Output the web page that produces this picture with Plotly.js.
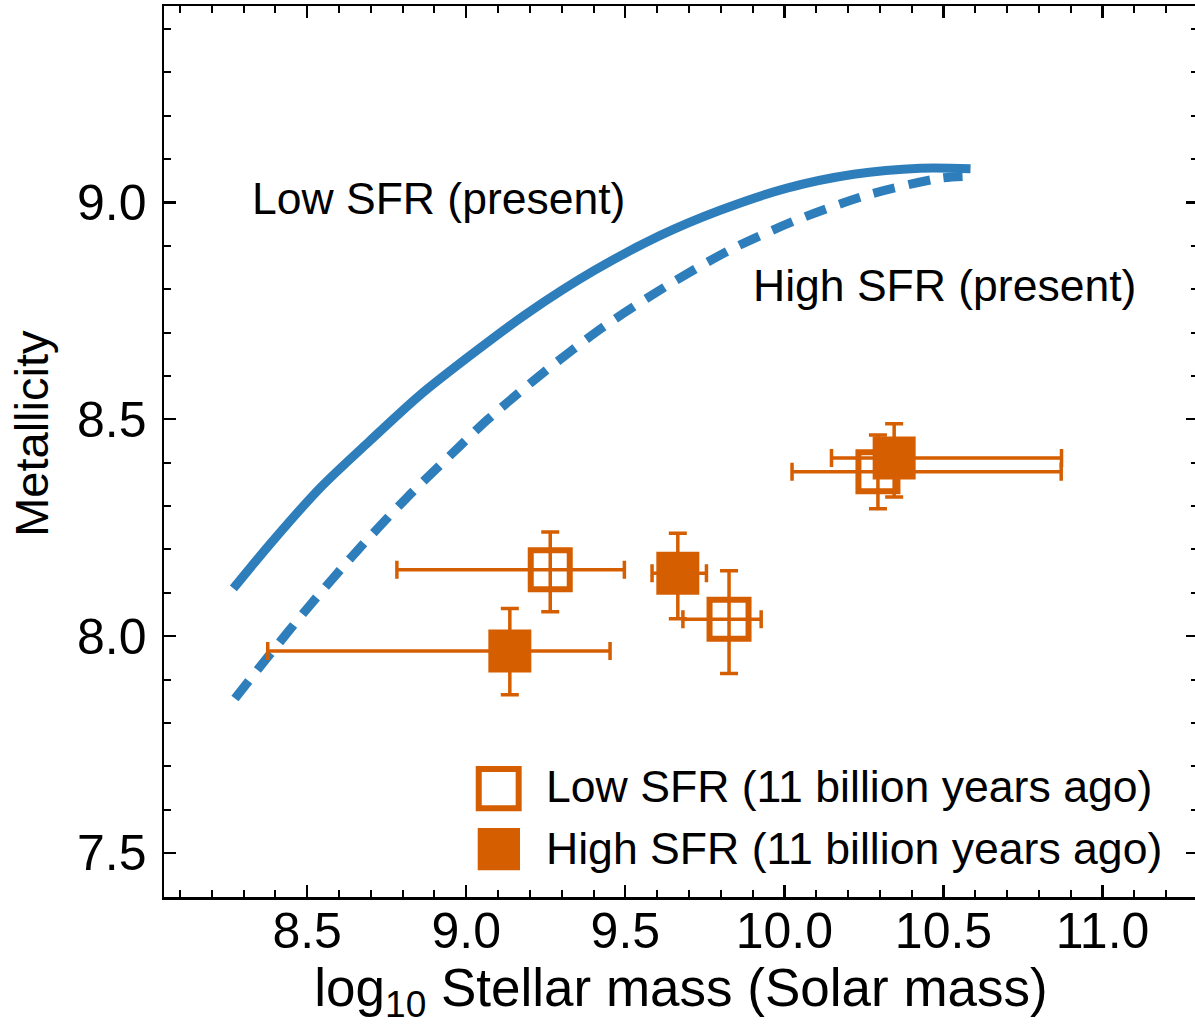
<!DOCTYPE html>
<html>
<head>
<meta charset="utf-8">
<script src="https://cdn.plot.ly/plotly-3.0.1.min.js"></script>
<style>
html, body { margin: 0; padding: 0; overflow: hidden; background: #fff; }
#chart { width: 1200px; height: 1025px; }
</style>
</head>
<body>
<div id="chart"></div>
<script>
// Present-day relations (log stellar mass vs metallicity)
const lowPresentMass = [8.268, 8.383, 8.541, 8.698, 8.855, 9.023, 9.191, 9.400, 9.610, 9.798, 10.008, 10.218, 10.427, 10.585];
const lowPresentZ    = [8.110, 8.212, 8.342, 8.451, 8.556, 8.653, 8.744, 8.842, 8.924, 8.982, 9.033, 9.065, 9.079, 9.078];
const highPresentMass = [8.273, 8.373, 8.504, 8.656, 8.813, 8.981, 9.065, 9.243, 9.431, 9.631, 9.830, 10.040, 10.260, 10.490, 10.560];
const highPresentZ    = [7.856, 7.949, 8.067, 8.196, 8.319, 8.439, 8.498, 8.608, 8.713, 8.808, 8.891, 8.960, 9.017, 9.056, 9.060];

// 11 billion years ago samples
const lowPastMass = [9.264, 9.826, 10.294];
const lowPastZ    = [8.153, 8.039, 8.379];
const lowPastMassErrMinus = [0.482, 0.145, 0.270];
const lowPastMassErrPlus  = [0.233, 0.101, 0.576];
const lowPastZErrMinus = [0.097, 0.125, 0.085];
const lowPastZErrPlus  = [0.087, 0.112, 0.085];

const highPastMass = [9.137, 9.665, 10.345];
const highPastZ    = [7.966, 8.145, 8.411];
const highPastMassErrMinus = [0.761, 0.081, 0.197];
const highPastMassErrPlus  = [0.315, 0.090, 0.526];
const highPastZErrMinus = [0.101, 0.105, 0.090];
const highPastZErrPlus  = [0.098, 0.092, 0.079];

const legendLabels = ["Low SFR (11 billion years ago)", "High SFR (11 billion years ago)"];
const curveLabels = ["Low SFR (present)", "High SFR (present)"];
const xTitle = 'log<sub>10</sub> Stellar mass (Solar mass)';
const yTitle = 'Metallicity';

const BLUE = '#2e7ebb';
const ORANGE = '#d55e00';
const FONT = 'Liberation Sans, Arial, Helvetica, sans-serif';

function errBars(plus, minus) {
  return {type: 'data', symmetric: false, array: plus, arrayminus: minus, color: ORANGE, thickness: 3.5, width: 9};
}

const traces = [
  {x: lowPresentMass, y: lowPresentZ, mode: 'lines', line: {color: BLUE, width: 9, shape: 'spline', smoothing: 0.8}, showlegend: false, hoverinfo: 'skip'},
  {x: highPresentMass, y: highPresentZ, mode: 'lines', line: {color: BLUE, width: 9, dash: '22px,14px', shape: 'spline', smoothing: 0.8}, showlegend: false, hoverinfo: 'skip'},
  {x: lowPastMass, y: lowPastZ, mode: 'markers', showlegend: false,
   marker: {symbol: 'square-open', size: 39, color: ORANGE, line: {color: ORANGE, width: 6}},
   error_x: errBars(lowPastMassErrPlus, lowPastMassErrMinus),
   error_y: errBars(lowPastZErrPlus, lowPastZErrMinus)},
  {x: highPastMass, y: highPastZ, mode: 'markers', showlegend: false,
   marker: {symbol: 'square', size: 43, color: ORANGE, line: {width: 0}},
   error_x: errBars(highPastMassErrPlus, highPastMassErrMinus),
   error_y: errBars(highPastZErrPlus, highPastZErrMinus)}
];

const axisCommon = {
  showgrid: false, zeroline: false,
  showline: true, linecolor: '#000', linewidth: 2.5, mirror: 'ticks',
  ticks: 'inside', ticklen: 12, tickwidth: 2.2, tickcolor: '#000',
  tickfont: {family: FONT, size: 50, color: '#000'},
  automargin: false
};

const layout = {
  width: 1200, height: 1025,
  margin: {l: 164, r: 2, t: 6, b: 128},
  paper_bgcolor: '#fff', plot_bgcolor: '#fff',
  showlegend: false,
  xaxis: Object.assign({}, axisCommon, {
    range: [8.05, 11.3], tick0: 8.5, dtick: 0.5, tickformat: '.1f',
    minor: {dtick: 0.1, tick0: 8.0, ticks: 'inside', ticklen: 7, tickwidth: 2, tickcolor: '#000', showgrid: false},
    ticklabelstandoff: -12,
    title: {text: xTitle, font: {family: FONT, size: 53, color: '#000'}, standoff: 34}
  }),
  yaxis: Object.assign({}, axisCommon, {
    range: [7.3985, 9.453], tick0: 7.5, dtick: 0.5, tickformat: '.1f',
    minor: {dtick: 0.1, tick0: 7.5, ticks: 'inside', ticklen: 7, tickwidth: 2, tickcolor: '#000', showgrid: false},
    ticklabelstandoff: 5
  }),
  annotations: [
    {x: -0.1275, y: 0.520, xref: 'paper', yref: 'paper', xanchor: 'center', yanchor: 'middle', showarrow: false,
     textangle: -90, text: yTitle, font: {family: FONT, size: 47, color: '#000'}},
    {x: 8.320, y: 9.010, xref: 'x', yref: 'y', xanchor: 'left', yanchor: 'middle', showarrow: false,
     text: curveLabels[0], font: {family: FONT, size: 44.5, color: '#000'}},
    {x: 9.895, y: 8.809, xref: 'x', yref: 'y', xanchor: 'left', yanchor: 'middle', showarrow: false,
     text: curveLabels[1], font: {family: FONT, size: 44.5, color: '#000'}},
    {x: 0.3675, y: 0.1235, xref: 'paper', yref: 'paper', xanchor: 'left', yanchor: 'middle', showarrow: false,
     text: legendLabels[0], font: {family: FONT, size: 44.6, color: '#000'}},
    {x: 0.3675, y: 0.0546, xref: 'paper', yref: 'paper', xanchor: 'left', yanchor: 'middle', showarrow: false,
     text: legendLabels[1], font: {family: FONT, size: 44.6, color: '#000'}}
  ],
  shapes: [
    {type: 'rect', xref: 'paper', yref: 'paper', x0: 0.3044, x1: 0.3430, y0: 0.0996, y1: 0.1437,
     line: {color: ORANGE, width: 6}, fillcolor: 'rgba(0,0,0,0)'},
    {type: 'rect', xref: 'paper', yref: 'paper', x0: 0.3034, x1: 0.3443, y0: 0.0300, y1: 0.0775,
     line: {width: 0}, fillcolor: ORANGE}
  ]
};

Plotly.newPlot('chart', traces, layout, {displayModeBar: false, staticPlot: true});
</script>
</body>
</html>
